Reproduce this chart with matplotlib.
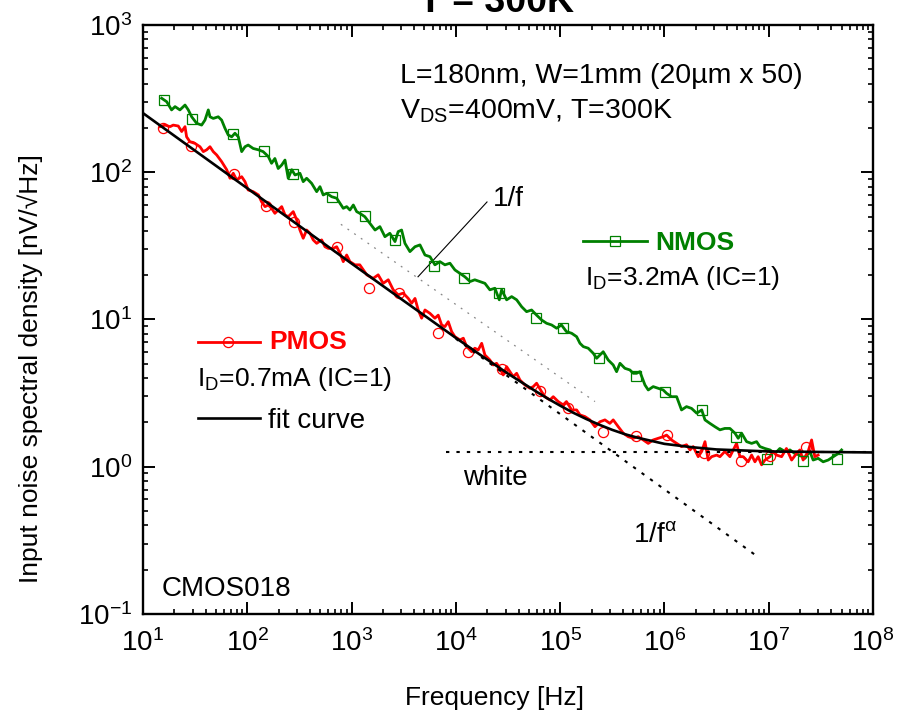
import math

import matplotlib
matplotlib.use("Agg")
import matplotlib.pyplot as plt
from matplotlib.ticker import LogLocator, FuncFormatter, NullFormatter

plt.rcParams["font.family"] = ["Liberation Sans", "DejaVu Sans"]
plt.rcParams["mathtext.fontset"] = "custom"
plt.rcParams["mathtext.rm"] = "Liberation Sans"
plt.rcParams["mathtext.it"] = "Liberation Sans:italic"
plt.rcParams["mathtext.bf"] = "Liberation Sans:bold"

pmos_freq = [14.6, 16.3, 18.2, 19.5, 21.8, 23.5, 25.3, 26.2, 28.2, 31.5,
             35.2, 37.9, 40.8, 43.9, 47.2, 50.9, 56.8, 63.5, 68.3, 73.4,
             79.1, 88.4, 95.1, 102, 114, 128, 137, 148, 159, 171,
             184, 198, 214, 230, 247, 276, 298, 320, 344, 371,
             399, 429, 463, 517, 556, 598, 668, 720, 774, 833,
             898, 965, 1080, 1200, 1400, 1610, 1800, 2010, 2250, 2510,
             2800, 3130, 3500, 3770, 4060, 4360, 4700, 5060, 5650, 6300,
             6780, 7310, 7860, 8460, 9120, 9800, 10950, 11800, 12700, 14200,
             15200, 16400, 17700, 19000, 21200, 22800, 24600, 26500, 28500, 30700,
             33000, 35500, 38300, 41200, 46000, 51300, 55300, 59500, 66500, 71500,
             79900, 85900, 95900, 107000, 115000, 129000, 144000, 155000, 173000, 193000,
             216000, 241000, 269000, 300000, 323000, 361000, 403000, 450000, 502000, 561000,
             627000, 700000, 781000, 872000, 974000, 1.05e6, 1.17e6, 1.31e6, 1.46e6, 1.63e6,
             1.76e6, 1.89e6, 2.11e6, 2.28e6, 2.45e6, 2.63e6, 2.84e6, 3.17e6, 3.41e6, 3.80e6,
             4.25e6, 4.75e6, 4.92e6, 5.30e6, 5.70e6, 6.36e6, 6.86e6, 7.38e6, 7.93e6, 8.55e6,
             9.20e6, 1.03e7, 1.10e7, 1.19e7, 1.33e7, 1.48e7, 1.66e7, 1.85e7, 1.99e7, 2.14e7,
             2.39e7, 2.58e7, 2.77e7, 2.98e7]
pmos_vals = [204, 209, 204, 209, 206, 189, 204, 174, 161, 157,
             149, 138, 142, 149, 138, 131, 118, 104, 91.0, 98.4,
             88.6, 93.3, 86.3, 75.8, 73.8, 70.1, 63.1, 58.4, 59.9, 56.9,
             52.6, 55.4, 58.4, 51.3, 49.9, 54.0, 47.4, 40.5, 35.6, 40.5,
             38.5, 34.7, 32.9, 34.7, 31.2, 30.4, 30.4, 31.2, 28.2, 24.7,
             27.4, 24.7, 23.5, 23.5, 20.1, 19.0, 20.1, 17.6, 18.6, 15.9,
             14.7, 15.1, 13.9, 12.9, 13.9, 11.6, 10.2, 11.6, 11.0, 10.2,
             10.7, 9.18, 8.94, 9.66, 8.27, 7.64, 7.26, 7.46, 6.54, 6.04,
             6.38, 6.21, 6.89, 5.74, 5.31, 4.91, 5.04, 4.66, 4.20, 4.78,
             4.42, 4.09, 4.31, 3.88, 3.59, 3.41, 3.50, 3.69, 3.23, 2.99,
             2.84, 2.99, 2.77, 2.63, 2.77, 2.43, 2.43, 2.25, 2.19, 2.08,
             1.87, 2.02, 2.08, 1.97, 2.08, 1.87, 1.69, 1.60, 1.56, 1.60,
             1.52, 1.44, 1.52, 1.56, 1.60, 1.64, 1.52, 1.44, 1.37, 1.41,
             1.30, 1.37, 1.17, 1.27, 1.48, 1.11, 1.17, 1.20, 1.17, 1.27,
             1.17, 1.37, 1.44, 1.17, 1.17, 1.08, 1.20, 1.08, 1.17, 1.03,
             1.11, 1.17, 1.27, 1.20, 1.17, 1.33, 1.11, 1.23, 1.30, 1.11,
             1.27, 1.52, 1.17, 1.20]
pmos_mark_freq = [15.7, 28.7, 74.6, 151, 280, 729, 1460, 2870, 6740, 13200,
                  27500, 64000, 120000, 257000, 533000, 1.06e6, 2.39e6, 5.41e6, 1.03e7, 2.30e7]
pmos_mark_vals = [201, 151, 97.3, 59.0, 46.1, 31.2, 16.3, 15.1, 8.14, 6.02,
                  4.61, 3.27, 2.49, 1.72, 1.62, 1.63, 1.23, 1.10, 1.18, 1.37]

# NMOS measured spectrum
nmos_freq = [15.1, 16.9, 18.8, 20.3, 22.6, 25.3, 27.2, 29.3, 32.7, 36.5,
             39.3, 42.3, 43.9, 47.2, 52.7, 56.8, 61.1, 65.7, 70.9, 76.2,
             82.0, 88.4, 95.1, 102, 114, 128, 142, 159, 171, 184,
             198, 214, 230, 247, 267, 287, 320, 344, 371, 414,
             463, 498, 535, 577, 645, 720, 774, 833, 898, 965,
             1040, 1120, 1200, 1340, 1500, 1680, 1870, 2090, 2330, 2610,
             2800, 3020, 3250, 3630, 4060, 4530, 5060, 5650, 6300, 7040,
             7860, 8780, 9800, 10900, 12200, 13700, 15200, 17000, 19000, 21200,
             23700, 26100, 27500, 30700, 34300, 38300, 42800, 47700, 53300, 59500,
             66500, 74200, 82900, 92600, 103000, 115000, 129000, 144000, 155000, 167000,
             186000, 208000, 224000, 259000, 289000, 323000, 348000, 375000, 418000, 467000,
             502000, 541000, 582000, 651000, 700000, 781000, 872000, 974000, 1.05e6, 1.17e6,
             1.31e6, 1.46e6, 1.63e6, 1.82e6, 2.04e6, 2.28e6, 2.45e6, 2.73e6, 3.05e6, 3.41e6,
             3.80e6, 4.25e6, 4.75e6, 5.10e6, 5.50e6, 6.14e6, 6.86e6, 7.66e6, 8.24e6, 9.20e6,
             1.03e7, 1.15e7, 1.28e7, 1.43e7, 1.60e7, 1.78e7, 1.99e7, 2.23e7, 2.48e7, 2.67e7,
             2.98e7, 3.33e7, 3.72e7, 4.16e7, 4.64e7, 5.00e7]
nmos_vals = [318, 301, 265, 279, 265, 286, 265, 238, 215, 209,
             226, 265, 238, 232, 238, 226, 199, 179, 174, 184,
             174, 138, 149, 153, 145, 142, 138, 128, 115, 124,
             106, 112, 121, 91.0, 104, 95.8, 98.4, 86.3, 91.0, 84.1,
             73.8, 79.8, 70.1, 71.9, 68.2, 66.6, 61.5, 56.9, 58.4, 55.4,
             59.9, 54.0, 52.6, 49.9, 45.0, 40.5, 42.7, 36.5, 38.5, 33.8,
             39.5, 40.5, 32.9, 28.9, 31.2, 32.1, 27.4, 26.7, 23.5, 24.7,
             23.5, 24.1, 21.7, 20.6, 19.5, 18.1, 18.6, 18.1, 17.6, 15.9,
             16.3, 13.6, 15.9, 13.6, 14.3, 13.6, 12.2, 11.3, 11.6, 10.7,
             9.92, 9.42, 9.18, 8.72, 9.18, 8.27, 8.06, 7.64, 6.89, 6.54,
             6.38, 5.89, 5.45, 6.04, 5.31, 4.91, 4.42, 5.04, 4.66, 4.54,
             4.31, 4.31, 4.42, 3.59, 3.32, 3.50, 3.41, 3.32, 3.15, 2.99,
             2.99, 2.43, 2.56, 2.49, 2.31, 2.43, 2.08, 1.97, 1.87, 1.78,
             1.82, 1.82, 1.69, 1.56, 1.69, 1.48, 1.44, 1.48, 1.37, 1.33,
             1.30, 1.23, 1.33, 1.27, 1.30, 1.23, 1.20, 1.14, 1.27, 1.11,
             1.14, 1.08, 1.11, 1.17, 1.23, 1.30]
nmos_mark_freq = [15.9, 29.3, 72.4, 145, 276, 653, 1340, 2610, 6240, 12000, 26000,
                  58600, 107000, 237000, 533000, 1.01e6, 2.28e6, 4.85e6, 9.62e6, 2.14e7, 4.48e7]
nmos_mark_vals = [310, 229, 182, 139, 96.8, 68.2, 50.7, 34.7, 23.2, 19.0, 15.2,
                  10.2, 8.69, 5.45, 4.13, 3.20, 2.41, 1.59, 1.12, 1.09, 1.13]

# fit curve and its two asymptotes
fit_freq = [10, 31.6, 100, 316, 1000, 3160, 1e4, 1.78e4, 3.16e4, 5.62e4, 7.5e4, 1e5,
            1.33e5, 1.78e5, 2.37e5, 3.16e5, 4.22e5, 5.62e5, 1e6, 1.78e6, 3.16e6, 1e7, 3.16e7, 1e8]
fit_vals = [252, 140, 77.8, 43.2, 24.0, 13.4, 7.50, 5.65, 4.29, 3.31, 2.92, 2.60,
            2.33, 2.11, 1.93, 1.78, 1.66, 1.57, 1.43, 1.36, 1.31, 1.27, 1.26, 1.25]
white_freq = [8e3, 1e8]
white_vals = [1.25, 1.25]
flicker_freq = [1e4, 7.9e6]
flicker_vals = [7.40, 0.244]
onef_freq = [790, 2.16e5]
onef_vals = [44.3, 2.77]
leader_freq = [4340, 19900]
leader_vals = [19.5, 62.8]

RED = "#ff0000"
GREEN = "#008000"

fig = plt.figure(figsize=(8.97, 7.16), dpi=100)
ax = fig.add_axes([0.1594, 0.1425, 0.8138, 0.8226])

ax.plot(onef_freq, onef_vals, color="#888888", lw=0.9, ls=(0, (1.5, 5)))
ax.plot(leader_freq, leader_vals, color="black", lw=0.8)
ax.plot(nmos_freq, nmos_vals, color=GREEN, lw=2.0)
ax.plot(pmos_freq, pmos_vals, color=RED, lw=2.0)
ax.plot(nmos_mark_freq, nmos_mark_vals, ls="none", marker="s", ms=6.8,
        mfc="none", mec=GREEN, mew=0.9)
ax.plot(pmos_mark_freq, pmos_mark_vals, ls="none", marker="o", ms=7.3,
        mfc="none", mec=RED, mew=0.9)
ax.plot(fit_freq, fit_vals, color="black", lw=1.9)
ax.plot(white_freq, white_vals, color="black", lw=1.5, ls=(0, (1.6, 3.4)))
ax.plot(flicker_freq, flicker_vals, color="black", lw=1.5, ls=(0, (1.6, 3.4)))

ax.set_xscale("log")
ax.set_yscale("log")
ax.set_xlim(10, 1e8)
ax.set_ylim(0.1, 1000)

fmt = FuncFormatter(lambda v, p: r"$\mathregular{10^{%d}}$" % round(math.log10(v)))
for axis in (ax.xaxis, ax.yaxis):
    axis.set_major_locator(LogLocator(base=10, numticks=20))
    axis.set_minor_locator(LogLocator(base=10, subs=range(2, 10), numticks=100))
    axis.set_major_formatter(fmt)
    axis.set_minor_formatter(NullFormatter())

ax.tick_params(which="both", direction="in", top=True, right=True, labelsize=20)
ax.tick_params(which="major", length=8.5, width=1.4)
ax.tick_params(which="minor", length=3.8, width=1.2)
ax.tick_params(axis="x", which="major", pad=11)
ax.tick_params(axis="y", which="major", pad=8)
for sp in ax.spines.values():
    sp.set_linewidth(1.7)

ax.set_xlabel("Frequency [Hz]", fontsize=19, va="center")
ax.xaxis.set_label_coords(0.481, -0.143)
ax.set_ylabel("Input noise spectral density [nV/\u221aHz]", fontsize=19, va="center")
ax.yaxis.set_label_coords(-0.155, 0.416)

# title sits partly above the canvas, as in the source image
fig.text(0.554, 0.983, "T = 300K", fontsize=27, fontweight="bold",
         ha="center", va="baseline")

tr = ax.transAxes
ax.text(0.352, 0.902, "L=180nm, W=1mm (20\u00b5m x 50)", transform=tr, fontsize=20.5)
ax.text(0.352, 0.8416, r"V$_\mathregular{DS}$=400mV, T=300K", transform=tr, fontsize=20.5)

ax.plot([0.6027, 0.6904], [0.6333, 0.6333], transform=tr, color=GREEN, lw=2.0)
ax.plot([0.6466], [0.6333], transform=tr, marker="s", ms=6.8, mfc="none",
        mec=GREEN, mew=0.9)
ax.text(0.7014, 0.618, "NMOS", transform=tr, fontsize=19, fontweight="bold", color=GREEN)
ax.text(0.6055, 0.5586, r"I$_\mathregular{D}$=3.2mA (IC=1)", transform=tr, fontsize=19)

ax.plot([0.0753, 0.1603], [0.4618, 0.4618], transform=tr, color=RED, lw=2.0)
ax.plot([0.1164], [0.4618], transform=tr, marker="o", ms=7.3, mfc="none",
        mec=RED, mew=0.9)
ax.text(0.1726, 0.4494, "PMOS", transform=tr, fontsize=19, fontweight="bold", color=RED)
ax.text(0.074, 0.3871, r"I$_\mathregular{D}$=0.7mA (IC=1)", transform=tr, fontsize=19)
ax.plot([0.0753, 0.1603], [0.3328, 0.3328], transform=tr, color="black", lw=1.9)
ax.text(0.1712, 0.3153, "fit curve", transform=tr, fontsize=20)

ax.text(0.4795, 0.6927, "1/f", transform=tr, fontsize=20)
ax.text(0.4384, 0.219, "white", transform=tr, fontsize=20)
ax.text(0.671, 0.1228, r"1/f$^{\mathregular{\alpha}}$", transform=tr, fontsize=20)
ax.text(0.026, 0.0306, "CMOS018", transform=tr, fontsize=20)

fig.savefig("out.png", dpi=100)
